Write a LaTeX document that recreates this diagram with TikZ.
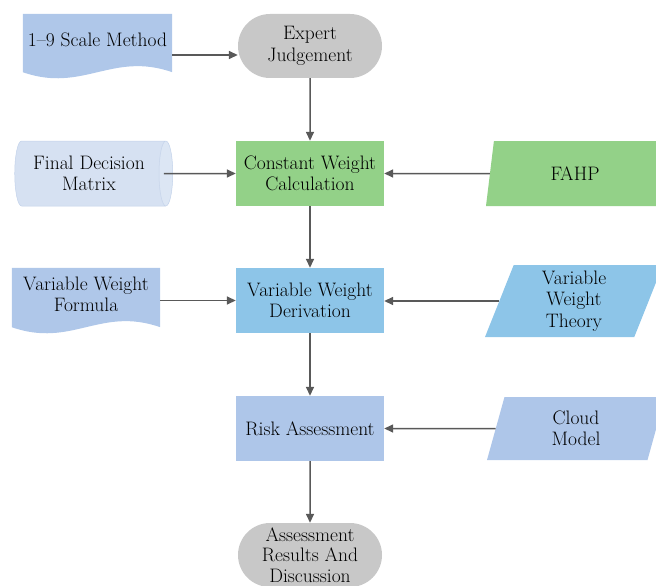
\documentclass[tikz,border=0pt]{standalone}
\usepackage{tikz}
\usetikzlibrary{shapes.geometric,shapes.misc,arrows.meta,backgrounds}
\definecolor{docblue}{HTML}{AFC7E9}
\definecolor{termgray}{HTML}{C8C8C8}
\definecolor{cwgreen}{HTML}{93D188}
\definecolor{vwblue}{HTML}{8DC5E8}
\definecolor{rablue}{HTML}{AEC6E9}
\definecolor{cylbody}{HTML}{D6E1F2}
\definecolor{cylend}{HTML}{DCE6F4}
\definecolor{cylline}{HTML}{C3D2EA}
\definecolor{flowgray}{HTML}{595959}
% wavy bottom of a document node
\newcommand{\wavedoc}[1]{\fill[docblue] (#1.north west) -- (#1.north east) -- ([yshift=-6pt]#1.south east)
	.. controls +(-60,-21) and +(60,21) .. ([yshift=-6pt]#1.south west) -- cycle;}

\begin{document}
\begin{tikzpicture}[x=1pt,y=-1pt,
	every node/.style={font=\fontsize{19.5}{21.5}\selectfont, align=center, inner sep=2pt},
	doc/.style={minimum width=149pt, minimum height=52pt},
	term/.style={rounded rectangle, fill=termgray, minimum width=148pt, minimum height=64pt},
	proc/.style={rectangle, minimum width=148pt, minimum height=65pt},
	para/.style={trapezium, trapezium left angle=66, trapezium right angle=114, trapezium stretches body,
		minimum width=178pt, minimum height=65pt},
	cyl/.style={cylinder, aspect=0.35, cylinder uses custom fill, cylinder body fill=cylbody,
		cylinder end fill=cylend, draw=cylline, line width=0.5pt, minimum width=65pt, minimum height=158pt},
	flow/.style={draw=flowgray, line width=1.5pt, -{Triangle[length=9pt,width=8pt]}}]
	\useasboundingbox (0,0) rectangle (656,586);
	\node[doc] (sm) at (97.5,40) {1--9 Scale Method};
	\node[term] (ej) at (310,46) {Expert\\Judgement};
	\node[proc, fill=cwgreen] (cw) at (310,173.5) {Constant Weight\\Calculation};
	\node[cyl] (fdm) at (89,173.5) {Final Decision\\Matrix};
	\node[para, fill=cwgreen] (fahp) at (575,173.5) {FAHP};
	\node[proc, fill=vwblue] (vwd) at (310,300.5) {Variable Weight\\Derivation};
	\node[doc, minimum width=148pt, minimum height=53pt] (vwf) at (86,294.5) {Variable Weight\\Formula};
	\node[para, fill=vwblue, minimum height=72pt] (vwt) at (574,301) {Variable\\Weight\\Theory};
	\node[proc, fill=rablue] (ra) at (310,428.5) {Risk Assessment};
	\node[para, fill=rablue, minimum height=63pt] (cm) at (576,428.5) {Cloud\\Model};
	\node[term, font=\fontsize{19.5}{20.5}\selectfont] (ard) at (310,555) {Assessment\\Results And\\Discussion};
	\begin{scope}[on background layer]
		\wavedoc{sm}
		\wavedoc{vwf}
	\end{scope}
	% connectors
	\draw[flow] ([yshift=-9pt]ej.west -| sm.east) -- ([yshift=-9pt]ej.west);
	\draw[flow] (ej) -- (cw);
	\draw[flow] ([xshift=-9pt]fdm.east) -- (cw);
	\draw[flow] (fahp) -- (cw);
	\draw[flow] (cw) -- (vwd);
	\draw[flow] (vwd.west -| vwf.east) -- (vwd.west);
	\draw[flow] (vwt.west) -- (vwt.west -| vwd.east);
	\draw[flow] (vwd) -- (ra);
	\draw[flow] (cm) -- (ra);
	\draw[flow] (ra) -- (ard);
\end{tikzpicture}
\end{document}
